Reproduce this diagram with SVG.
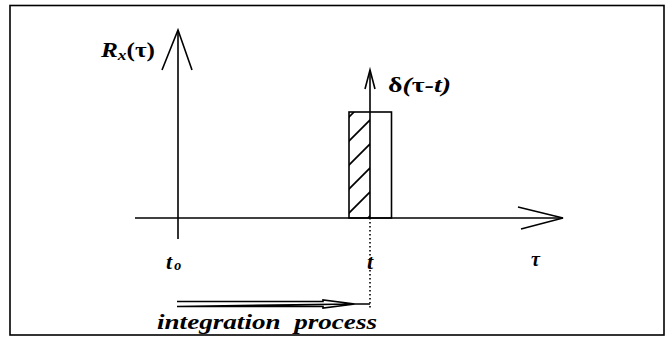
<svg xmlns="http://www.w3.org/2000/svg" width="666" height="345" viewBox="0 0 666 345">
<defs>
<style>
.ln{stroke:#000;stroke-width:1.6;fill:none}
.tx{font-family:"Liberation Serif","Times New Roman",serif;font-style:italic;font-weight:bold;fill:#000}
</style>
<clipPath id="hc"><rect x="349" y="112" width="21" height="106"/></clipPath>
</defs>
<rect width="666" height="345" fill="#fff"/>
<g id="frame"><rect x="10" y="5.5" width="654" height="329.5" class="ln" stroke-width="2.2"/></g>
<g id="connectors">
<g id="y-axis"><line x1="178" y1="30" x2="178" y2="239" class="ln"/><polyline points="162,70 178,30 192,70" class="ln"/></g>
<g id="x-axis"><line x1="135" y1="218" x2="563" y2="218" class="ln"/><polyline points="518,207 563,218 521,229" class="ln"/></g>
<g id="delta"><line x1="370" y1="70" x2="370" y2="218" class="ln"/><polyline points="365,89 370,70 375,89" class="ln"/><line x1="370" y1="218" x2="370" y2="309" class="ln" stroke-dasharray="1.5,2.5"/></g>
<g id="integration-arrow"><path d="M177,301.5 L323,301.5 L323,300 L355,304 L370,304 M355,304 L323,308 L323,306.5 L177,306.5 Z" class="ln" stroke-width="1.3"/></g>
</g>
<g id="pulse"><rect x="349" y="112" width="42.5" height="106" class="ln"/>
<g clip-path="url(#hc)" class="ln"><line x1="340" y1="126" x2="375" y2="91"/><line x1="340" y1="150" x2="375" y2="115"/><line x1="340" y1="174" x2="375" y2="139"/><line x1="340" y1="198" x2="375" y2="163"/><line x1="340" y1="222" x2="375" y2="187"/><line x1="340" y1="246" x2="375" y2="211"/></g></g>
<g id="labels">
<text class="tx" x="101" y="57" font-size="22" textLength="54" lengthAdjust="spacingAndGlyphs">R<tspan font-size="15" dy="3">x</tspan><tspan dy="-3" font-style="normal">(τ)</tspan></text>
<text class="tx" x="388" y="92" font-size="21" textLength="63" lengthAdjust="spacingAndGlyphs"><tspan font-style="normal">δ</tspan>(<tspan font-style="normal">τ</tspan>-t)</text>
<text class="tx" x="166" y="269" font-size="22">t<tspan font-size="14" dx="2" dy="1">o</tspan></text>
<text class="tx" x="367" y="269" font-size="22">t</text>
<text class="tx" x="531" y="266" font-size="20" font-style="normal">τ</text>
<text class="tx" x="157" y="329" font-size="21" textLength="220" lengthAdjust="spacingAndGlyphs" xml:space="preserve">integration  process</text>
</g>
</svg>
